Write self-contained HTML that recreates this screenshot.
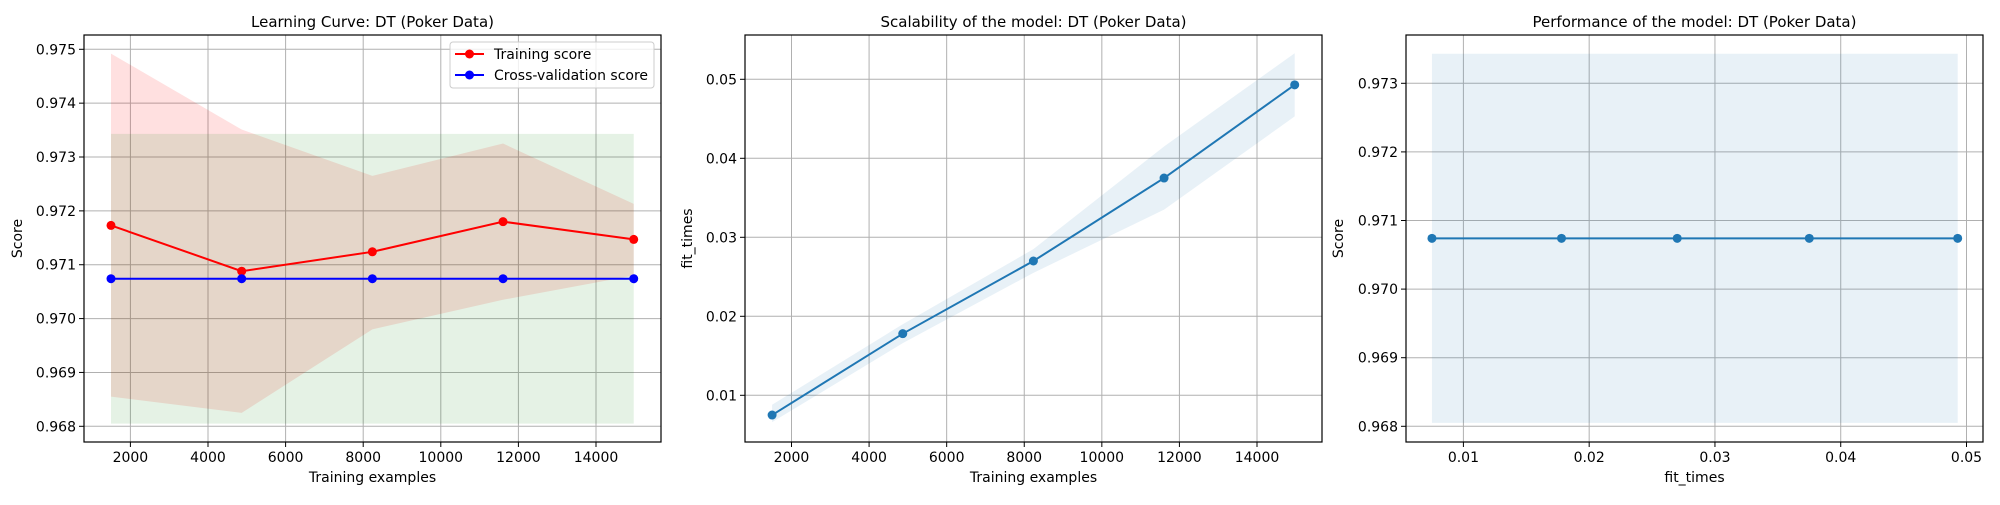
<!DOCTYPE html>
<html><head><meta charset="utf-8"><style>
html,body{margin:0;padding:0;background:#fff;}
svg text{font-family:"DejaVu Sans","Liberation Sans",sans-serif;font-size:14px;fill:#000;}
</style></head><body>
<svg id="fig" width="2000" height="500" xmlns="http://www.w3.org/2000/svg"></svg>
<script>
// ---- data ----
const trainSizes = [1500, 4868, 8236, 11604, 14972];
const trainMean = [0.97173, 0.97088, 0.97124, 0.97180, 0.97147];
const trainUpper = [0.97492, 0.97351, 0.97265, 0.97325, 0.97213];
const trainLower = [0.96855, 0.96825, 0.96980, 0.97035, 0.97080];
const cvMean = [0.97074, 0.97074, 0.97074, 0.97074, 0.97074];
const cvUpper = [0.97343, 0.97343, 0.97343, 0.97343, 0.97343];
const cvLower = [0.96805, 0.96805, 0.96805, 0.96805, 0.96805];
const fitMean = [0.0075, 0.0178, 0.0270, 0.0375, 0.0493];
const fitUpper = [0.0088, 0.0190, 0.0285, 0.0415, 0.0533];
const fitLower = [0.0066, 0.0166, 0.0255, 0.0335, 0.0453];
const xTicks1 = [2000, 4000, 6000, 8000, 10000, 12000, 14000];
const yTicks1 = [0.968, 0.969, 0.970, 0.971, 0.972, 0.973, 0.974, 0.975];
const yTicks2 = [0.01, 0.02, 0.03, 0.04, 0.05];
const xTicks3 = [0.01, 0.02, 0.03, 0.04, 0.05];
const yTicks3 = [0.968, 0.969, 0.970, 0.971, 0.972, 0.973];

const NS = "http://www.w3.org/2000/svg";
const fig = document.getElementById('fig');
function mk(tag, attrs, parent) {
  const e = document.createElementNS(NS, tag);
  for (const k in attrs) e.setAttribute(k, attrs[k]);
  (parent || fig).appendChild(e);
  return e;
}
function lin(d0, d1, r0, r1) { return v => r0 + (v - d0) * (r1 - r0) / (d1 - d0); }

function panel(o) {
  const g = mk('g', {});
  
  
  const X = lin(o.xd[0], o.xd[1], o.xr[0], o.xr[1]);
  const Y = lin(o.yd[0], o.yd[1], o.yr[0], o.yr[1]);
  const L = o.box[0], R = o.box[1], T = o.box[2], B = o.box[3];
  // grid
  o.xt.forEach(t => { const l = mk('line', {x1: X(t), x2: X(t), y1: T, y2: B, stroke: '#b0b0b0', 'stroke-width': 1}, g);   });
  o.yt.forEach(t => { const l = mk('line', {x1: L, x2: R, y1: Y(t), y2: Y(t), stroke: '#b0b0b0', 'stroke-width': 1}, g);   });
  o.draw(g, X, Y);
  // frame
  const f = mk('rect', {x: L, y: T, width: R - L, height: B - T, fill: 'none', stroke: '#000', 'stroke-width': 1.2}, g);
   
  o.xt.forEach(t => {
    mk('line', {x1: X(t), x2: X(t), y1: B, y2: B + 5, stroke: '#000'}, g);
    const tx = mk('text', {x: X(t), y: B + 20, 'text-anchor': 'middle'}, g);
    tx.textContent = o.xf(t);
     
  });
  o.yt.forEach(t => {
    mk('line', {x1: L - 5, x2: L, y1: Y(t), y2: Y(t), stroke: '#000'}, g);
    const tx = mk('text', {x: L - 8, y: Y(t) + 5, 'text-anchor': 'end'}, g);
    tx.textContent = o.yf(t);
     
  });
  const ti = mk('text', {x: (L + R) / 2, y: 27, 'text-anchor': 'middle', style: 'font-size:15px'}, g);
  ti.textContent = o.title;  
  const xl = mk('text', {x: (L + R) / 2, y: 482, 'text-anchor': 'middle'}, g);
  xl.textContent = o.xlab;  
  const yx = o.ylx, yy = (T + B) / 2;
  const yl = mk('text', {x: yx, y: yy, 'text-anchor': 'middle', transform: `rotate(-90 ${yx} ${yy})`}, g);
  yl.textContent = o.ylab;  
}
function band(g, X, Y, xs, lo, hi, fill, op, name) {
  let d = 'M' + xs.map((x, i) => X(x) + ',' + Y(hi[i])).join('L');
  for (let i = xs.length - 1; i >= 0; i--) d += 'L' + X(xs[i]) + ',' + Y(lo[i]);
  const p = mk('path', {d: d + 'Z', fill: fill, 'fill-opacity': op}, g);
   
}
function series(g, X, Y, xs, ys, col, w, name) {
  const p = mk('polyline', {points: xs.map((x, i) => X(x) + ',' + Y(ys[i])).join(' '), fill: 'none', stroke: col, 'stroke-width': w}, g);
   
  xs.forEach((x, i) => {
    const c = mk('circle', {cx: X(x), cy: Y(ys[i]), r: 4.5, fill: col}, g);
     
  });
}

panel({name: 'learning-curve-chart', box: [84, 661, 35, 442],
  xd: [2000, 14000], xr: [130.4, 596], yd: [0.968, 0.975], yr: [426.3, 49.3],
  xt: xTicks1, yt: yTicks1, xf: t => String(t), yf: t => t.toFixed(3),
  title: 'Learning Curve: DT (Poker Data)', xlab: 'Training examples', ylab: 'Score', ylx: 22,
  draw: (g, X, Y) => {
    band(g, X, Y, trainSizes, trainLower, trainUpper, '#ff0000', 0.12, 'training-score-band');
    band(g, X, Y, trainSizes, cvLower, cvUpper, '#008000', 0.1, 'cv-score-band');
    series(g, X, Y, trainSizes, trainMean, '#ff0000', 2, 'training-score');
    series(g, X, Y, trainSizes, cvMean, '#0000ff', 2, 'cv-score');
    const lg = mk('g', {}, g);
     
    mk('rect', {x: 450, y: 42, width: 204, height: 46, rx: 3, fill: '#fff', 'fill-opacity': 0.8, stroke: '#cccccc'}, lg);
    [['Training score', '#ff0000', 54], ['Cross-validation score', '#0000ff', 75]].forEach(e => {
      const le = mk('g', {}, lg);
       
      mk('line', {x1: 455, x2: 484, y1: e[2], y2: e[2], stroke: e[1], 'stroke-width': 2}, le);
      mk('circle', {cx: 469.5, cy: e[2], r: 4.5, fill: e[1]}, le);
      const t = mk('text', {x: 494, y: e[2] + 5}, le); t.textContent = e[0];
    });
  }});

panel({name: 'scalability-chart', box: [745, 1322, 35, 442],
  xd: [2000, 14000], xr: [791.5, 1257], yd: [0.01, 0.05], yr: [395.3, 79.3],
  xt: xTicks1, yt: yTicks2, xf: t => String(t), yf: t => t.toFixed(2),
  title: 'Scalability of the model: DT (Poker Data)', xlab: 'Training examples', ylab: 'fit_times', ylx: 692,
  draw: (g, X, Y) => {
    band(g, X, Y, trainSizes, fitLower, fitUpper, '#1f77b4', 0.1, 'fit-times-band');
    series(g, X, Y, trainSizes, fitMean, '#1f77b4', 2, 'fit-times');
  }});

panel({name: 'performance-chart', box: [1406, 1983, 35, 442],
  xd: [0.01, 0.05], xr: [1463.4, 1966.5], yd: [0.968, 0.973], yr: [426.3, 83.3],
  xt: xTicks3, yt: yTicks3, xf: t => t.toFixed(2), yf: t => t.toFixed(3),
  title: 'Performance of the model: DT (Poker Data)', xlab: 'fit_times', ylab: 'Score', ylx: 1343,
  draw: (g, X, Y) => {
    band(g, X, Y, fitMean, cvLower, cvUpper, '#1f77b4', 0.1, 'score-band');
    series(g, X, Y, fitMean, cvMean, '#1f77b4', 2, 'performance-score');
  }});
</script>
</body></html>
